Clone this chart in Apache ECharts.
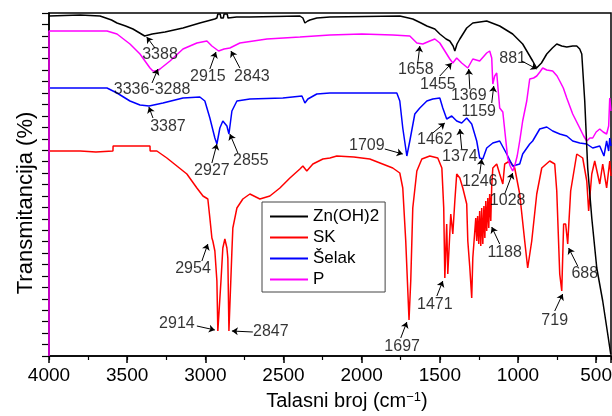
<!DOCTYPE html>
<html>
<head>
<meta charset="utf-8">
<script src="https://cdn.jsdelivr.net/npm/echarts@6/dist/echarts.min.js"></script>
<style>html,body{margin:0;padding:0;background:#fff}#main{width:612px;height:416px}</style>
</head>
<body>
<div id="main"></div>
<script>
// spectra: [wavenumber cm-1, transmittance (arb. units, offset per sample)]
var zn = [[4000,340],[3800,341],[3674,340],[3655,339],[3600,336],[3565,333],[3510,330],[3463,327],[3420,323],[3388,320],[3340,322],[3258,324],[3143,328],[3035,333],[2940,337],[2926,338],[2920,342],[2905,342],[2900,338],[2885,338],[2880,342],[2860,342],[2855,338],[2800,339],[2715,339],[2395,340],[2376,338],[2363,333],[2345,335],[2331,336],[2287,338],[2203,339],[1756,340],[1700,338],[1673,337],[1620,333],[1583,330],[1532,327],[1500,322],[1460,317],[1436,315],[1415,310],[1404,305],[1390,312],[1372,317],[1328,328],[1289,333],[1200,335],[1117,330],[1034,322],[970,312],[906,295],[881,288],[874,287],[850,293],[816,302],[780,308],[752,312],[720,310],[688,309],[650,310],[624,310],[605,307],[592,302],[573,255],[554,188],[528,138],[496,88],[458,55],[426,22],[407,2]];
var sk = [[4000,205],[3800,205],[3700,204],[3591,205],[3590,210],[3354,210],[3353,205],[3310,205],[3246,198],[3182,190],[3118,182],[3054,168],[3015,160],[2984,157],[2971,138],[2958,118],[2952,115],[2939,105],[2926,75],[2920,25],[2913,25],[2900,75],[2888,108],[2875,117],[2862,108],[2856,98],[2849,25],[2843,25],[2830,105],[2824,128],[2798,148],[2760,157],[2715,162],[2651,157],[2587,160],[2523,168],[2459,178],[2395,187],[2376,190],[2351,185],[2312,192],[2248,197],[2203,198],[2159,200],[2050,199],[1948,197],[1801,188],[1756,183],[1737,168],[1718,115],[1697,36],[1686,75],[1673,148],[1647,185],[1615,197],[1564,200],[1513,198],[1487,188],[1475,148],[1468,78],[1456,132],[1449,82],[1430,142],[1417,122],[1404,155],[1392,182],[1372,178],[1353,168],[1328,152],[1321,115],[1308,88],[1296,58],[1289,98],[1270,138],[1264,115],[1258,140],[1251,112],[1245,145],[1238,110],[1232,148],[1225,112],[1218,150],[1212,118],[1206,155],[1200,125],[1193,158],[1187,128],[1181,162],[1174,135],[1168,170],[1161,188],[1136,192],[1117,182],[1097,172],[1085,192],[1053,195],[1021,188],[989,162],[957,115],[938,88],[912,115],[880,162],[848,188],[797,195],[765,192],[752,165],[733,82],[720,65],[708,132],[695,132],[682,112],[663,165],[624,202],[586,198],[560,175],[548,145],[528,182],[509,195],[477,172],[458,192],[433,168],[413,195],[405,180]];
var selak = [[4000,268],[3800,268],[3629,268],[3565,263],[3482,255],[3418,251],[3360,250],[3271,253],[3143,258],[3035,259],[3003,255],[2971,238],[2939,218],[2926,212],[2907,228],[2888,235],[2862,230],[2849,222],[2830,245],[2798,255],[2715,257],[2504,258],[2382,260],[2363,253],[2344,257],[2287,262],[2203,263],[1775,263],[1756,255],[1737,228],[1711,200],[1692,215],[1660,242],[1628,248],[1583,255],[1545,257],[1500,258],[1481,248],[1456,237],[1424,240],[1392,235],[1360,233],[1328,238],[1296,232],[1264,215],[1245,198],[1225,197],[1200,208],[1161,213],[1117,215],[1072,202],[1034,190],[989,192],[970,202],[925,212],[906,215],[861,227],[816,229],[778,225],[733,222],[688,220],[650,215],[605,213],[560,212],[522,208],[477,210],[450,200],[433,215],[420,205],[413,218],[405,210]];
var p = [[4000,0],[4000,325],[3800,325],[3629,325],[3565,322],[3482,312],[3418,302],[3354,288],[3335,285],[3310,285],[3290,287],[3226,295],[3143,307],[3054,313],[2990,315],[2958,310],[2915,305],[2880,307],[2843,308],[2779,313],[2606,317],[2395,319],[2203,321],[1999,322],[1800,321],[1692,320],[1647,313],[1609,312],[1564,315],[1532,317],[1500,313],[1468,305],[1436,297],[1417,293],[1392,298],[1360,293],[1321,288],[1289,297],[1245,295],[1200,303],[1181,305],[1168,298],[1161,272],[1149,280],[1136,283],[1117,248],[1097,244],[1085,242],[1066,198],[1050,190],[1034,185],[1021,190],[1005,200],[989,215],[970,235],[944,255],[925,277],[900,278],[880,280],[860,284],[842,288],[816,286],[778,285],[750,280],[733,275],[710,268],[688,258],[650,242],[605,228],[580,220],[560,215],[540,218],[522,218],[500,224],[477,227],[455,224],[433,222],[420,230],[413,258],[405,245]];

var names = ['Zn(OH)2', 'SK', 'Šelak', 'P'];
var colors = ['#000000', '#ff0000', '#0000ff', '#ff00ff'];

// peak labels: [text, wavenumber, value]
var peakLabels = [
    ['3388', 3290, 301], ['3336-3288', 3341, 266], ['2915', 2984, 279], ['2843', 2702, 279],
    ['3387', 3239, 229], ['2927', 2958, 185], ['2855', 2709, 195], ['2954', 3079, 87],
    ['2914', 3182, 32], ['2847', 2581, 24], ['1697', 1741, 9], ['1471', 1532, 51],
    ['719', 765, 35], ['688', 573, 82], ['1188', 1085, 103], ['1028', 1066, 155],
    ['1246', 1245, 174], ['1374', 1372, 199], ['1462', 1532, 216], ['1709', 1967, 210],
    ['1658', 1654, 286], ['1455', 1513, 271], ['1369', 1315, 260], ['1159', 1251, 244],
    ['881', 1034, 297]
];
// arrows: [from w, from v, to w, to v]
var peakArrows = [
    [3322, 308, 3375, 319], [3341, 273, 3303, 287], [2971, 287, 2932, 304], [2779, 288, 2836, 305],
    [3335, 238, 3361, 249], [2958, 193, 2926, 212], [2792, 203, 2843, 222], [3022, 95, 2984, 112],
    [3054, 30, 2939, 26], [2696, 24, 2830, 25], [1750, 18, 1711, 34], [1519, 60, 1481, 75],
    [765, 45, 714, 62], [618, 90, 676, 108], [1117, 112, 1168, 129], [1085, 162, 1034, 183],
    [1245, 182, 1232, 197], [1360, 207, 1372, 227], [1545, 223, 1468, 233], [1852, 207, 1737, 202],
    [1641, 293, 1628, 310], [1500, 280, 1424, 293], [1308, 267, 1315, 287], [1168, 253, 1155, 270],
    [976, 295, 880, 287]
];

var myChart = echarts.init(document.getElementById('main'));

function spectrum(i, data) {
    return {
        name: names[i],
        type: 'line',
        data: data,
        symbol: 'none',
        lineStyle: { color: colors[i], width: 1.5 },
        itemStyle: { color: colors[i] },
        silent: true
    };
}

myChart.setOption({
    animation: false,
    textStyle: { fontFamily: 'Liberation Sans, Arial, sans-serif', color: '#000' },
    grid: {
        left: 49, right: 1, top: 13, bottom: 60,
        outerBoundsMode: 'none', containLabel: false,
        show: true, borderColor: '#000', borderWidth: 1.5
    },
    legend: {
        data: names,
        orient: 'vertical',
        left: 262,
        top: 202,
        padding: [6, 6, 4, 8],
        itemGap: 4,
        itemWidth: 38,
        itemHeight: 2,
        icon: 'rect',
        borderColor: '#444',
        borderWidth: 1,
        backgroundColor: '#fff',
        textStyle: { fontSize: 17, lineHeight: 17, color: '#000' }
    },
    xAxis: [{
        type: 'value',
        min: 405,
        max: 4000,
        inverse: true,
        minInterval: 500,
        maxInterval: 500,
        splitNumber: 7,
        axisLine: { lineStyle: { color: '#000', width: 1.5 } },
        axisTick: { length: 7, lineStyle: { color: '#000', width: 1.5 } },
        axisLabel: {
            fontSize: 19, color: '#000', margin: 10,
            formatter: function (v) { return v % 500 === 0 ? String(v) : ''; }
        },
        splitLine: { show: false },
        name: 'Talasni broj (cm{sup|−1})',
        nameLocation: 'middle',
        nameGap: 35,
        nameTextStyle: {
            fontSize: 20, color: '#000', padding: [0, 0, 0, 34],
            rich: { sup: { fontSize: 13, verticalAlign: 'top', color: '#000' } }
        }
    }, {
        type: 'value',
        min: 405,
        max: 4000,
        inverse: true,
        minInterval: 250,
        maxInterval: 250,
        splitNumber: 14,
        position: 'bottom',
        axisLine: { show: false },
        axisTick: { length: 4, lineStyle: { color: '#000', width: 1.2 } },
        axisLabel: { show: false },
        splitLine: { show: false }
    }],
    yAxis: {
        type: 'value',
        min: 0,
        max: 343,
        interval: 343 / 30,
        axisLine: { show: true, lineStyle: { color: '#000', width: 1.5 } },
        axisTick: { show: true, length: 7, lineStyle: { color: '#000', width: 1.2 } },
        axisLabel: { show: false },
        splitLine: { show: false },
        name: 'Transmitancija (%)',
        nameLocation: 'middle',
        nameGap: 12,
        nameTextStyle: { fontSize: 22, color: '#000', padding: [0, 37, 0, 0] }
    },
    series: [
        spectrum(1, sk),
        spectrum(2, selak),
        spectrum(3, p),
        spectrum(0, zn),
        {
            name: 'oznake',
            type: 'scatter',
            symbolSize: 0,
            itemStyle: { color: '#000' },
            silent: true,
            z: 5,
            label: {
                show: true, position: 'inside', formatter: '{b}', fontSize: 16,
                color: '#000', textBorderWidth: 0
            },
            data: peakLabels.map(function (l) { return { name: l[0], value: [l[1], l[2]] }; }),
            markLine: {
                silent: true,
                symbol: ['none', 'arrow'],
                symbolSize: 6,
                lineStyle: { color: '#000', width: 1, type: 'solid' },
                label: { show: false },
                data: peakArrows.map(function (a) {
                    return [{ coord: [a[0], a[1]] }, { coord: [a[2], a[3]] }];
                })
            }
        }
    ]
});
</script>
</body>
</html>
